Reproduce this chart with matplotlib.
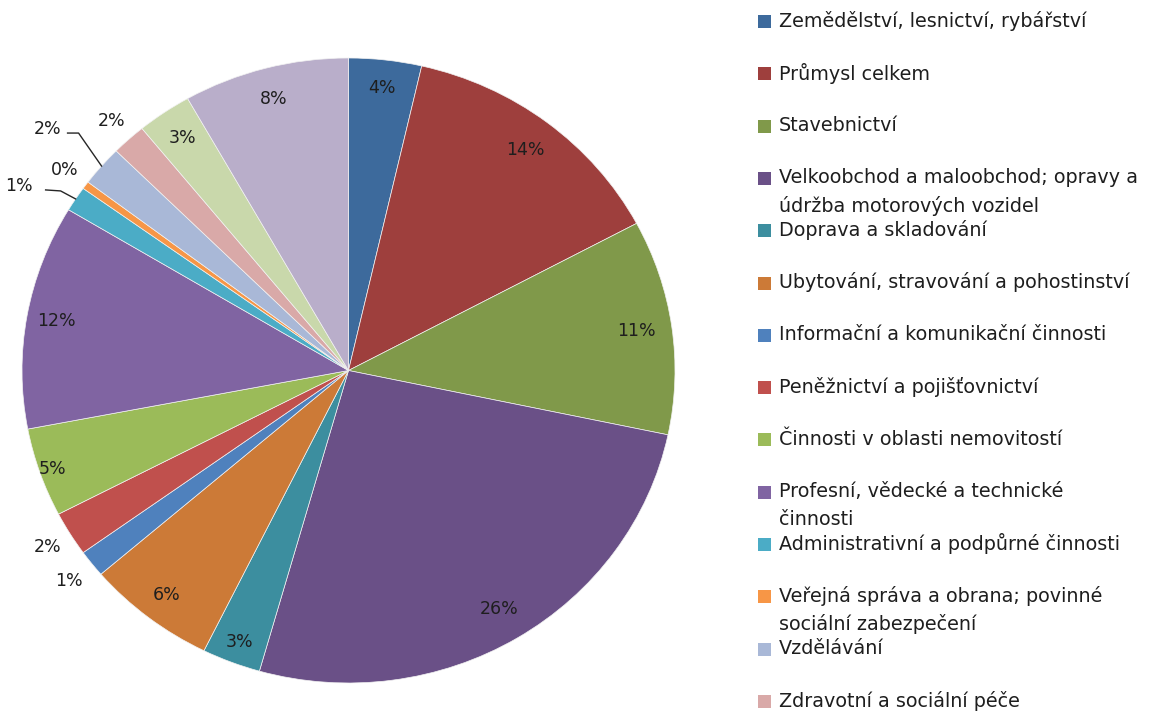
import matplotlib
matplotlib.use("Agg")
import matplotlib.pyplot as plt
from matplotlib.lines import Line2D
from matplotlib.patches import Rectangle
import numpy as np

categories = [
    "Zemědělství, lesnictví, rybářství",
    "Průmysl celkem",
    "Stavebnictví",
    "Velkoobchod a maloobchod; opravy a\núdržba motorových vozidel",
    "Doprava a skladování",
    "Ubytování, stravování a pohostinství",
    "Informační a komunikační činnosti",
    "Peněžnictví a pojišťovnictví",
    "Činnosti v oblasti nemovitostí",
    "Profesní, vědecké a technické\nčinnosti",
    "Administrativní a podpůrné činnosti",
    "Veřejná správa a obrana; povinné\nsociální zabezpečení",
    "Vzdělávání",
    "Zdravotní a sociální péče",
    "Kulturní, zábavní a rekreační činnosti",
    "Ostatní činnosti",
]
shares = [3.6, 13.6, 11.1, 26.1, 2.9, 6.4, 1.4, 2.3, 4.6, 11.6, 1.3, 0.4, 2.1, 1.7, 2.7, 8.2]
colors = ["#3D6A9C", "#9E3F3D", "#80994A", "#6A5087", "#3C8E9F", "#CC7A37",
          "#4F81BD", "#C0504D", "#9BBB59", "#8064A2", "#4BACC6", "#F79646",
          "#A9B8D7", "#D9A9A8", "#C9D8AB", "#B9AECA"]

# layout: radial position of each percentage label (None = label with leader line)
label_r = [0.91, 0.89, 0.89, 0.89, 0.93, 0.91, 1.09, 1.08, 0.96, 0.91,
           None, 1.08, None, 1.08, 0.90, 0.90]
# leader-line label geometry in pixel offsets from rim point: knee, end, text centre
leaders = {10: ((-15, 8), (-30, 9), (-57, 13)),
           12: ((-23, 33), (-34, 33), (-54, 37))}

W, H = 1171, 715
fig = plt.figure(figsize=(W / 100, H / 100), dpi=100)
fig.patch.set_facecolor("white")

# pie axes (slightly elliptical like reference)
left_px, right_px, top_px, bot_px = 22, 675, 58, 683
ax = fig.add_axes([left_px / W, (H - bot_px) / H, (right_px - left_px) / W, (bot_px - top_px) / H])
wedges, _ = ax.pie(shares, colors=colors, startangle=90, counterclock=False,
                   radius=1.0, wedgeprops=dict(edgecolor="#f2f2f2", linewidth=0.5))
ax.set_aspect("auto")
ax.set_xlim(-1, 1)
ax.set_ylim(-1, 1)
ax.axis("off")

total = sum(shares)
fs = 12.5
legfs = 13.8
txtcol = "#1e1e1e"
for i, w in enumerate(wedges):
    pct = shares[i] / total * 100
    lab = f"{pct:.0f}%"
    ang = np.deg2rad((w.theta1 + w.theta2) / 2)
    r = label_r[i]
    if r is not None:
        ax.text(r * np.cos(ang), r * np.sin(ang), lab, ha="center", va="center",
                fontsize=fs, color=txtcol)
    else:
        fig.canvas.draw()
        P = ax.transData.transform((np.cos(ang), np.sin(ang)))
        knee, end, tc = leaders[i]
        xs = [P[0], P[0] + knee[0], P[0] + end[0]]
        ys = [P[1], P[1] + knee[1], P[1] + end[1]]
        fig.add_artist(Line2D(xs, ys, transform=None, color="#262626", lw=1.0))
        fig.text((P[0] + tc[0]) / W, (P[1] + tc[1]) / H, lab, ha="center", va="center",
                 fontsize=fs, color=txtcol)

# legend (manually laid out; entries below the figure edge are cut off as in the reference)
y0, step, line_gap = 21, 52.3, 28
for i, (name, c) in enumerate(zip(categories, colors)):
    yc = y0 + step * i
    if yc > H:
        continue
    fig.add_artist(Rectangle(((758) / W, (H - yc - 7) / H), 13 / W, 13 / H,
                             transform=fig.transFigure, facecolor=c, edgecolor="none"))
    for j, line in enumerate(name.split("\n")):
        fig.text(779 / W, (H - yc - j * line_gap) / H, line, ha="left", va="center",
                 fontsize=legfs, color=txtcol)

fig.savefig("out.png", dpi=100, facecolor="white")
